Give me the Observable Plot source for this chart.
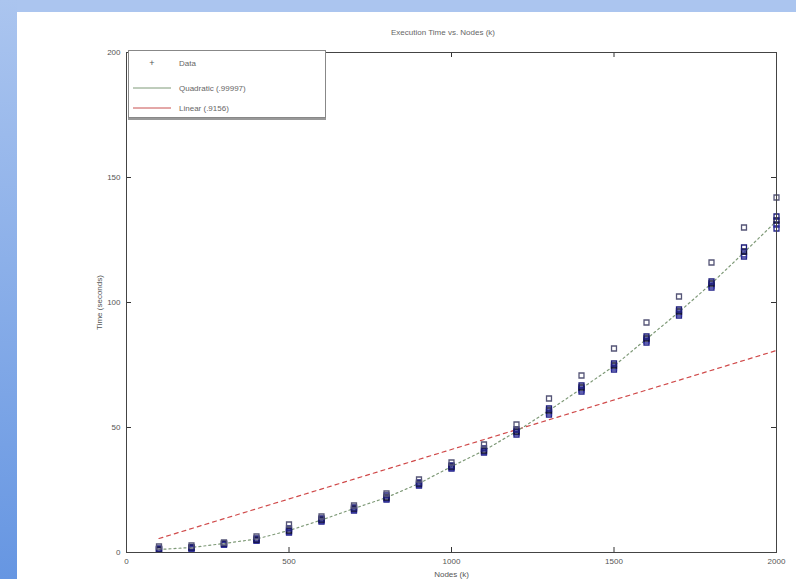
<!DOCTYPE html>
<html>
<head>
<meta charset="utf-8">
<script src="https://cdn.jsdelivr.net/npm/d3@7"></script>
<script src="https://cdn.jsdelivr.net/npm/@observablehq/plot@0.6"></script>
<style>
  html, body { margin: 0; padding: 0; background: #fff; width: 796px; height: 579px; overflow: hidden; }
  #topband { position: absolute; left: 0; top: 0; width: 796px; height: 12px; background: #abc5ef; }
  #leftband { position: absolute; left: 0; top: 0; width: 17px; height: 579px; background: linear-gradient(#abc5ef, #6696e2); }
  #chart { position: absolute; left: 0; top: 0; }
  #title { position: absolute; top: 28px; left: 0; width: 796px; text-align: center; padding-left: 90px; box-sizing: border-box;
           font: 8px "Liberation Sans", Arial, sans-serif; color: #666; }
  #legend { position: absolute; left: 128px; top: 50px; width: 196px; height: 66px; background: #fff;
            border: 1px solid #888; box-shadow: 0 2px 0 #999; font: 8px "Liberation Sans", Arial, sans-serif; color: #666; }
  .li { position: absolute; left: 4px; height: 12px; display: flex; align-items: center; }
  .li svg { margin-right: 8px; }
</style>
</head>
<body>
<div id="topband"></div>
<div id="leftband"></div>
<div id="chart"></div>
<div id="title">Execution Time vs. Nodes (k)</div>
<div id="legend">
  <div class="li" style="top:6px"><svg width="38" height="10"><text x="19" y="8" text-anchor="middle" font-size="9" fill="#555">+</text></svg>Data</div>
  <div class="li" style="top:31px"><svg width="38" height="10"><line x1="0" x2="38" y1="5" y2="5" stroke="#7f9a78" stroke-width="1"/></svg>Quadratic (.99997)</div>
  <div class="li" style="top:51px"><svg width="38" height="10"><line x1="0" x2="38" y1="5" y2="5" stroke="#c85050" stroke-width="1"/></svg>Linear (.9156)</div>
</div>
<script>
// Problem size (nodes, thousands)
const sizes = [100, 200, 300, 400, 500, 600, 700, 800, 900, 1000, 1100, 1200, 1300, 1400, 1500, 1600, 1700, 1800, 1900, 2000];
// Measured times, five runs per size
const run1 = [1.2, 1.6, 3.2, 4.8, 8.0, 12.4, 16.8, 21.2, 26.8, 33.6, 40.0, 47.2, 55.2, 64.4, 73.2, 84.0, 94.8, 106.0, 118.4, 129.6];
const run2 = [1.2, 1.6, 3.2, 4.8, 8.4, 12.8, 17.2, 21.6, 27.2, 34.0, 40.4, 48.0, 56.0, 65.2, 74.0, 84.8, 95.6, 106.8, 119.2, 131.2];
const run3 = [1.2, 2.0, 3.6, 5.2, 8.8, 13.2, 17.6, 22.0, 27.6, 34.4, 40.8, 48.4, 56.8, 66.0, 74.8, 85.6, 96.4, 107.6, 120.4, 132.8];
const run4 = [1.6, 2.0, 3.6, 5.6, 9.6, 13.6, 18.0, 22.8, 28.0, 34.8, 41.6, 49.2, 57.6, 66.8, 75.6, 86.4, 97.2, 108.4, 122.0, 134.4];
const run5 = [2.4, 2.8, 4.0, 6.4, 11.2, 14.4, 18.8, 23.6, 29.2, 36.0, 43.2, 51.2, 61.6, 70.8, 81.6, 92.0, 102.4, 116.0, 130.0, 142.0];
// Fitted curves
const quadFit = [1.2, 2.0, 3.6, 5.4, 8.8, 13.0, 17.6, 22.0, 27.6, 34.4, 40.8, 48.4, 56.8, 65.6, 74.6, 85.4, 96.2, 107.6, 120.0, 132.6];
const linSizes = [100, 2000];
const linFit = [5.6, 80.8];
const xTicks = [0, 500, 1000, 1500, 2000];
const yTicks = [0, 50, 100, 150, 200];

const runs = [run1, run2, run3, run4, run5];
const runStroke = ["#23238a", "#2a2a99", "#111133", "#1d1d7a", "#555577"];
const points = [];
runs.forEach((r, k) => r.forEach((v, i) => points.push({x: sizes[i], y: v, k})));
const quad = sizes.map((s, i) => ({x: s, y: quadFit[i]}));
const lin = linSizes.map((s, i) => ({x: s, y: linFit[i]}));

const W = 796, H = 579, mL = 126, mR = 20, mT = 52, mB = 27;
const fw = W - mL - mR, fh = H - mT - mB;
const fmt = d => String(d);

const chart = Plot.plot({
  width: W, height: H,
  marginLeft: mL, marginRight: mR, marginTop: mT, marginBottom: mB,
  style: {background: "transparent", fontFamily: "Liberation Sans, Arial, sans-serif", fontSize: "8px", color: "#555"},
  x: {domain: [0, 2000], ticks: xTicks, tickFormat: fmt},
  y: {domain: [0, 200], ticks: yTicks, tickFormat: fmt},
  marks: [
    Plot.axisX({ticks: xTicks, tickFormat: fmt, tickSize: 0, tickPadding: 6, label: "Nodes (k)", labelAnchor: "center", labelArrow: "none", labelOffset: 24}),
    Plot.axisY({ticks: yTicks, tickFormat: fmt, tickSize: 0, tickPadding: 6, label: "Time (seconds)", labelAnchor: "center", labelArrow: "none", labelOffset: 30}),
    Plot.ruleX(xTicks, {x: d => d, insetTop: fh - 5, stroke: "#333"}),
    Plot.ruleX(xTicks, {x: d => d, insetBottom: fh - 5, stroke: "#333"}),
    Plot.ruleY(yTicks, {y: d => d, insetRight: fw - 5, stroke: "#333"}),
    Plot.ruleY(yTicks, {y: d => d, insetLeft: fw - 5, stroke: "#333"}),
    Plot.line(lin, {x: "x", y: "y", stroke: "#d04a4a", strokeWidth: 1.2, strokeDasharray: "4,4"}),
    Plot.line(quad, {x: "x", y: "y", stroke: "#7f9a78", strokeWidth: 1.2, strokeDasharray: "2,3"}),
    Plot.dot(points, {x: "x", y: "y", symbol: "square", r: 2.8, stroke: d => runStroke[d.k], strokeWidth: 1.3, fill: "none"}),
    Plot.frame({stroke: "#444"})
  ]
});
document.getElementById("chart").appendChild(chart);
</script>
</body>
</html>
